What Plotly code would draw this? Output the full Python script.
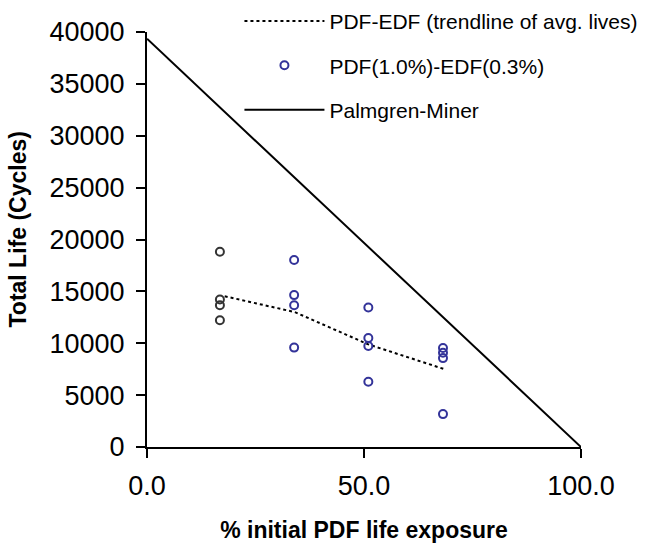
import plotly.graph_objects as go

# Data
pm_x = [0, 100]
pm_y = [39350, 0]

trend_x = [17.9, 34.0, 51.0, 68.7]
trend_y = [14530, 13010, 9890, 7480]

blue_x = [33.9, 33.9, 33.9, 33.9, 51.0, 51.0, 51.0, 51.0, 68.2, 68.2, 68.2, 68.2]
blue_y = [18020, 14640, 13670, 9580, 13440, 10500, 9730, 6290, 9540, 9090, 8570, 3170]

black_x = [16.8, 16.8, 16.8, 16.8]
black_y = [18820, 14210, 13660, 12210]

x_ticks = [0, 50, 100]
y_ticks = [0, 5000, 10000, 15000, 20000, 25000, 30000, 35000, 40000]

FONT = "Liberation Sans, Arial, sans-serif"

fig = go.Figure()

fig.add_trace(go.Scatter(
    x=trend_x, y=trend_y, mode="lines",
    line=dict(color="black", width=2, dash="dot"),
    name="PDF-EDF (trendline of avg. lives)", legendgroup="a",
))
fig.add_trace(go.Scatter(
    x=blue_x, y=blue_y, mode="markers",
    marker=dict(symbol="circle-open", size=8, color="#333399", line=dict(width=2, color="#333399")),
    name="PDF(1.0%)-EDF(0.3%)", legendgroup="b",
))
fig.add_trace(go.Scatter(
    x=pm_x, y=pm_y, mode="lines",
    line=dict(color="black", width=2),
    name="Palmgren-Miner", legendgroup="c",
))
fig.add_trace(go.Scatter(
    x=black_x, y=black_y, mode="markers",
    marker=dict(symbol="circle-open", size=8, color="#333333", line=dict(width=2, color="#333333")),
    showlegend=False,
))

fig.update_layout(
    width=645, height=543,
    margin=dict(l=147, r=64, t=32, b=96, pad=0, autoexpand=False),
    paper_bgcolor="white", plot_bgcolor="white",
    font=dict(family=FONT, color="black"),
    showlegend=True,
    legend=dict(
        x=0.213, y=1.075, xanchor="left", yanchor="top",
        font=dict(size=21, family=FONT, color="black"),
        bgcolor="rgba(0,0,0,0)",
        itemwidth=80,
        tracegroupgap=14,
    ),
    xaxis=dict(
        range=[0, 100], tickvals=x_ticks, tickformat=".1f",
        showline=True, linecolor="black", linewidth=2,
        ticks="outside", ticklen=9, tickwidth=2, tickcolor="black",
        showgrid=False, zeroline=False, automargin=False,
        tickfont=dict(size=27, family=FONT, color="black"),
        ticklabelstandoff=5,
        title=dict(text="<b>% initial PDF life exposure</b>", font=dict(size=23, family=FONT), standoff=24),
    ),
    yaxis=dict(
        range=[0, 40000], tickvals=y_ticks, tickformat="d",
        showline=True, linecolor="black", linewidth=2,
        ticks="outside", ticklen=9, tickwidth=2, tickcolor="black",
        showgrid=False, zeroline=False, automargin=False,
        tickfont=dict(size=27, family=FONT, color="black"),
        ticklabelstandoff=6,
    ),
    annotations=[dict(
        text="<b>Total Life (Cycles)</b>", textangle=-90,
        xref="paper", yref="paper", x=0, y=0.5,
        xanchor="center", yanchor="middle",
        xshift=-130, yshift=10, showarrow=False,
        font=dict(size=23, family=FONT, color="black"),
    )],
)

fig.write_html("out.html")
